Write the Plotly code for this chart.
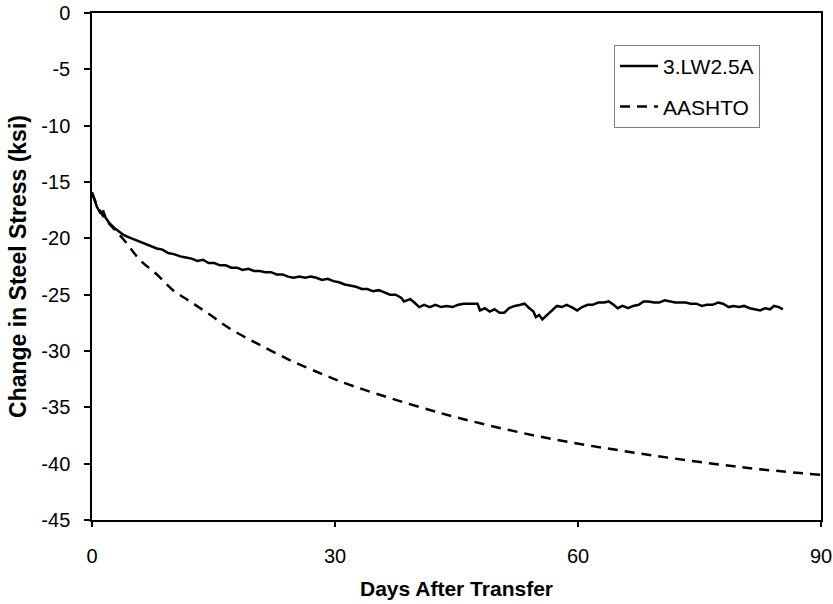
import plotly.graph_objects as go

# Measured series 3.LW2.5A
meas_days = [0.0, 0.3, 0.6, 1.0, 1.4, 1.7, 2.2, 2.8, 3.4, 3.9, 4.5, 5.2, 5.9, 6.6, 7.3, 8.0, 8.7, 9.4,
             10.1, 10.9, 11.6, 12.3, 13.0, 13.7, 14.4, 15.1, 15.8, 16.5, 17.2, 17.9, 18.6, 19.3, 20.0,
             20.7, 21.4, 22.1, 22.8, 23.5, 24.2, 24.9, 25.6, 26.3, 27.0, 27.7, 28.4, 29.1, 29.8, 30.5,
             31.2, 31.9, 32.6, 33.3, 34.0, 34.7, 35.4, 36.1, 36.8, 37.5, 38.2, 38.5, 39.3, 39.8, 40.4,
             41.0, 41.7, 42.4, 43.1, 43.8, 44.5, 45.2, 45.9, 46.7, 47.6, 47.9, 48.5, 49.1, 49.7, 50.3,
             50.9, 51.5, 52.2, 52.9, 53.4, 54.0, 54.5, 54.8, 55.2, 55.6, 56.2, 56.8, 57.4, 58.0, 58.6,
             59.2, 59.9, 60.5, 61.2, 61.8, 62.5, 63.2, 63.8, 64.4, 64.9, 65.5, 66.2, 66.8, 67.5, 68.1,
             68.7, 69.4, 70.0, 70.7, 71.3, 72.0, 72.6, 73.3, 73.9, 74.6, 75.3, 75.9, 76.6, 77.3, 77.9,
             78.6, 79.2, 79.9, 80.5, 81.2, 81.8, 82.5, 83.1, 83.7, 84.2, 84.8, 85.3]
meas_stress = [-15.9, -16.6, -17.2, -17.7, -17.6, -18.2, -18.7, -19.1, -19.4, -19.7, -19.9, -20.1, -20.3,
               -20.5, -20.7, -20.9, -21.0, -21.3, -21.4, -21.6, -21.7, -21.8, -22.0, -21.9, -22.2, -22.2,
               -22.4, -22.4, -22.6, -22.6, -22.8, -22.7, -22.9, -22.9, -23.0, -23.0, -23.2, -23.2, -23.4,
               -23.5, -23.4, -23.5, -23.4, -23.5, -23.7, -23.6, -23.8, -23.9, -24.1, -24.2, -24.3, -24.5,
               -24.5, -24.7, -24.6, -24.8, -25.0, -25.0, -25.3, -25.6, -25.4, -25.7, -26.1, -25.9, -26.1,
               -25.9, -26.1, -26.0, -26.1, -25.9, -25.8, -25.8, -25.8, -26.4, -26.2, -26.5, -26.3, -26.6,
               -26.6, -26.2, -26.0, -25.9, -25.8, -26.2, -26.5, -27.0, -26.8, -27.2, -26.8, -26.4, -26.0,
               -26.1, -25.9, -26.1, -26.4, -26.1, -25.9, -25.9, -25.7, -25.7, -25.6, -25.9, -26.2, -26.0,
               -26.2, -26.0, -25.9, -25.6, -25.6, -25.7, -25.7, -25.5, -25.6, -25.7, -25.7, -25.7, -25.8,
               -25.8, -26.0, -25.9, -25.9, -25.7, -25.8, -26.1, -26.0, -26.1, -26.0, -26.2, -26.3, -26.4,
               -26.2, -26.3, -26.0, -26.1, -26.3]

# AASHTO prediction
aashto_days = [0, 1, 2, 3.9, 5.9, 8.0, 10.0, 12.1, 14.2, 17.0, 20.3, 24.4, 28.6, 31.4, 43.0, 55.3, 67.7, 80.0, 90.0]
aashto_stress = [-16.0, -17.6, -18.6, -20.1, -21.9, -23.2, -24.6, -25.6, -26.6, -28.0, -29.3, -30.8, -32.1,
                 -32.9, -35.5, -37.6, -39.1, -40.3, -41.0]

x_ticks = [0, 30, 60, 90]
y_ticks = [0, -5, -10, -15, -20, -25, -30, -35, -40, -45]

FONT = "Liberation Sans, Arial, sans-serif"

fig = go.Figure()
fig.add_trace(go.Scatter(x=meas_days, y=meas_stress, mode="lines", name="3.LW2.5A",
                         line=dict(color="black", width=2.5), legendgroup="a"))
fig.add_trace(go.Scatter(x=aashto_days, y=aashto_stress, mode="lines", name="AASHTO",
                         line=dict(color="black", width=2.5, dash="10px,7px", shape="spline"),
                         legendgroup="b"))

fig.update_layout(
    width=833, height=604,
    margin=dict(l=92, r=12, t=13, b=84, pad=0),
    paper_bgcolor="white", plot_bgcolor="white",
    font=dict(family=FONT, size=20, color="black"),
    showlegend=True,
    legend=dict(x=0.716, y=0.937, xanchor="left", yanchor="top",
                bordercolor="#808080", borderwidth=1, bgcolor="white",
                font=dict(family=FONT, size=21, color="black"),
                tracegroupgap=10, itemwidth=38),
)
fig.update_xaxes(range=[0, 90], tickvals=x_ticks, ticktext=[str(v) for v in x_ticks],
                 showgrid=False, zeroline=False, showline=True, linecolor="black", linewidth=1.5,
                 mirror=True, ticks="outside", ticklen=5, tickwidth=1.5, tickcolor="black",
                 ticklabelstandoff=12, automargin=False,
                 tickfont=dict(family=FONT, size=20),
                 title=dict(text="<b>Days After Transfer</b>", font=dict(family=FONT, size=21), standoff=16))
fig.update_yaxes(range=[-45, 0], tickvals=y_ticks, ticktext=[str(v) for v in y_ticks],
                 showgrid=False, zeroline=False, showline=True, linecolor="black", linewidth=1.5,
                 mirror=True, ticks="outside", ticklen=6, tickwidth=1.5, tickcolor="black",
                 ticklabelstandoff=10, automargin=False,
                 tickfont=dict(family=FONT, size=20),
                 title=dict(text="<b>Change in Steel Stress (ksi)</b>", font=dict(family=FONT, size=23), standoff=8))

fig.write_html("out.html", config={"displayModeBar": False},
               post_script="document.body.style.margin='0';")
